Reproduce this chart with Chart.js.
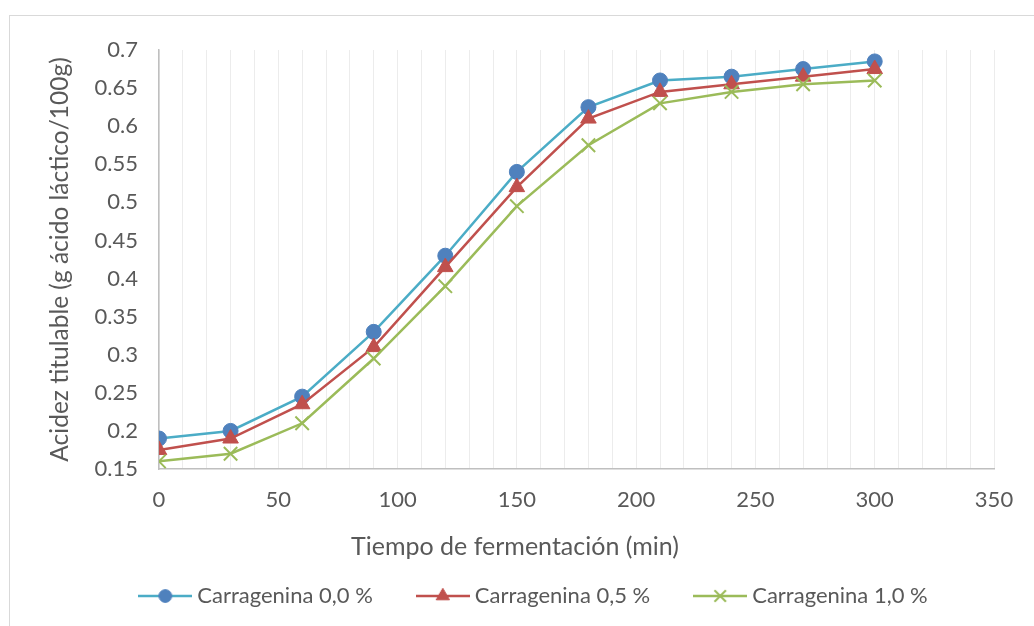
<!DOCTYPE html>
<html>
<head>
<meta charset="utf-8">
<script src="https://cdn.jsdelivr.net/npm/chart.js@4.4.1/dist/chart.umd.min.js"></script>
<style>
  html, body { margin: 0; padding: 0; background: #fff; }
  #wrap { position: relative; width: 1034px; height: 626px; overflow: hidden; }
  #frame { position: absolute; left: 9px; top: 15px; width: 1100px; height: 700px; border: 1px solid #d9d9d9; box-sizing: border-box; }
  #chart { position: absolute; left: 0; top: 0; }
</style>
</head>
<body>
<div id="wrap">
  <div id="frame"></div>
  <canvas id="chart" width="1034" height="626"></canvas>
</div>
<script>
// fermentation time (min) and titratable acidity for each carrageenan level
const tiempos = [0, 30, 60, 90, 120, 150, 180, 210, 240, 270, 300];
const carragenina00 = [0.19, 0.20, 0.245, 0.33, 0.43, 0.54, 0.625, 0.66, 0.665, 0.675, 0.685];
const carragenina05 = [0.175, 0.19, 0.235, 0.31, 0.415, 0.52, 0.61, 0.645, 0.655, 0.665, 0.675];
const carragenina10 = [0.16, 0.17, 0.21, 0.295, 0.39, 0.495, 0.575, 0.63, 0.645, 0.655, 0.66];
const nombresSeries = ['Carragenina 0,0 %', 'Carragenina 0,5 %', 'Carragenina 1,0 %'];

const textColor = '#595959';
const fontFamily = 'Lato, "Noto Sans", sans-serif';

const series = [
  { data: carragenina00, line: '#4BACC6', fill: '#4F81BD', style: 'circle', radius: 7.5 },
  { data: carragenina05, line: '#C0504D', fill: '#C0504D', style: 'triangle', radius: 9 },
  { data: carragenina10, line: '#9BBB59', fill: '#9BBB59', style: 'crossRot', radius: 9.5 }
];

// small line + marker swatch for the legend
function legendSwatch(s) {
  const c = document.createElement('canvas');
  c.width = 54;
  c.height = 22;
  const g = c.getContext('2d');
  g.strokeStyle = s.line;
  g.lineWidth = 2.5;
  g.beginPath();
  g.moveTo(0, 11);
  g.lineTo(54, 11);
  g.stroke();
  g.fillStyle = s.fill;
  g.strokeStyle = s.fill;
  g.lineWidth = s.style === 'crossRot' ? 2 : 1;
  Chart.helpers.drawPoint(g, { pointStyle: s.style, radius: s.radius * 0.85, rotation: 0, borderWidth: g.lineWidth }, 27, 11);
  return c;
}

const swatches = series.map(legendSwatch);

const datasets = series.map((s, i) => ({
  label: nombresSeries[i],
  data: tiempos.map((t, j) => ({ x: t, y: s.data[j] })),
  borderColor: s.line,
  borderWidth: 2.5,
  pointStyle: s.style,
  pointRadius: s.radius,
  pointBackgroundColor: s.fill,
  pointBorderColor: s.fill,
  pointBorderWidth: s.style === 'crossRot' ? 2 : 1,
  tension: 0,
  order: 3 - i
}));

const plotTop = 50;
const plotBottom = 469;
const plotLeft = 159;

// place the axis-title row and the legend row under the plot
const bottomRows = {
  id: 'bottomRows',
  afterLayout(chart) {
    const lg = chart.legend;
    lg.left += 19;
    lg.right += 19;
    lg.top -= 9;
    lg.bottom -= 9;
    const tb = chart.titleBlock;
    const h = tb.bottom - tb.top;
    tb.top = 532;
    tb.bottom = 532 + h;
    tb.left -= 2;
    tb.right -= 2;
  }
};

new Chart(document.getElementById('chart'), {
  type: 'line',
  data: { datasets },
  plugins: [bottomRows],
  options: {
    responsive: false,
    animation: false,
    layout: { padding: { left: 40, right: 40, top: plotTop, bottom: 0 } },
    plugins: {
      tooltip: { enabled: false },
      title: {
        display: true,
        position: 'bottom',
        weight: 500,
        text: 'Tiempo de fermentación (min)',
        color: textColor,
        font: { family: fontFamily, size: 25, weight: 'normal' },
        padding: { top: 0, bottom: 0 }
      },
      legend: {
        position: 'bottom',
        labels: {
          usePointStyle: true,
          pointStyleWidth: 42,
          padding: 49,
          color: textColor,
          font: { family: fontFamily, size: 22 },
          generateLabels(chart) {
            const items = Chart.defaults.plugins.legend.labels.generateLabels(chart);
            items.forEach(it => { it.pointStyle = swatches[it.datasetIndex]; });
            return items;
          },
          sort: (a, b) => a.datasetIndex - b.datasetIndex
        }
      }
    },
    scales: {
      x: {
        type: 'linear',
        min: 0,
        max: 350,
        afterFit(scale) {
          const c = scale.chart;
          scale.height = 626 - plotBottom - c.legend.height - c.titleBlock.height;
        },
        ticks: {
          stepSize: 10,
          autoSkip: false,
          maxRotation: 0,
          padding: 18,
          color: textColor,
          font: { family: fontFamily, size: 22 },
          callback: v => (v % 50 === 0 ? String(v) : '')
        },
        grid: { color: '#ececec', lineWidth: 1, drawTicks: false },
        border: { color: '#bfbfbf', width: 1.5 }
      },
      y: {
        min: 0.15,
        max: 0.7,
        afterFit(scale) {
          scale.width = plotLeft - 40;
        },
        ticks: {
          stepSize: 0.05,
          padding: 21,
          color: textColor,
          font: { family: fontFamily, size: 22 },
          callback: v => String(Math.round(v * 100) / 100)
        },
        grid: { display: false, drawTicks: false },
        border: { color: '#bfbfbf', width: 1.5 },
        title: {
          display: true,
          text: 'Acidez titulable (g ácido láctico/100g)',
          color: textColor,
          font: { family: fontFamily, size: 24.5 },
          padding: { top: 5.3, bottom: 0 }
        }
      }
    }
  }
});
</script>
</body>
</html>
